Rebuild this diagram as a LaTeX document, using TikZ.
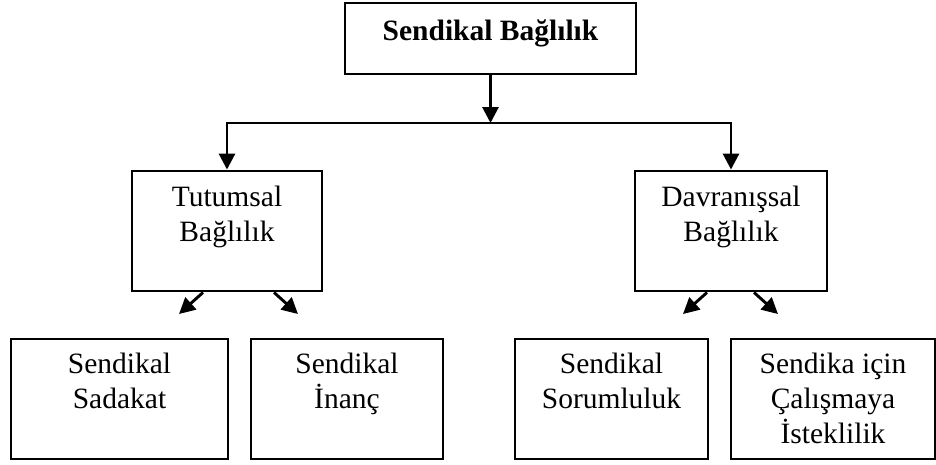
\documentclass[tikz,border=0pt]{standalone}
\usepackage{fontspec}
\setmainfont{Liberation Serif}
\usetikzlibrary{arrows.meta}

\tikzset{
  box/.style={draw, line width=2.9pt, rectangle, minimum height=120pt, inner sep=0pt},
  txt/.style={anchor=north, align=center, inner sep=0pt,
    font=\fontsize{29.5}{35}\selectfont},
  link/.style={line width=2.9pt},
  arr/.style={link, -{Triangle[length=16pt, width=16pt]}},
  darr/.style={link, -{Triangle[length=16pt, width=16pt]}},
}
\newcommand{\firstline}{\rule{0pt}{27pt}}

\begin{document}
\begin{tikzpicture}[x=1pt, y=-1pt]
  \useasboundingbox (0,0) rectangle (936,464);

  % boxes
  \node[box, minimum width=291pt, minimum height=71pt] (top) at (490.5,38.5) {};
  \node[box, minimum width=190pt] (tut) at (227,231) {};
  \node[box, minimum width=192pt] (dav) at (731,231) {};
  \node[box, minimum width=217pt] (sad) at (119.5,399) {};
  \node[box, minimum width=192pt] (ina) at (347,399) {};
  \node[box, minimum width=193pt] (sor) at (611.5,399) {};
  \node[box, minimum width=204pt] (ist) at (833,399) {};

  % texts
  \node[txt, font=\fontsize{29.5}{35}\selectfont\bfseries] (ttop) at ([yshift=-12pt]top.north) {\firstline Sendikal Bağlılık};
  \node[txt] (ttut) at ([yshift=-10pt]tut.north) {\firstline Tutumsal\\Bağlılık};
  \node[txt] (tdav) at ([yshift=-10pt]dav.north) {\firstline Davranışsal\\Bağlılık};
  \node[txt] (tsad) at ([yshift=-9pt]sad.north) {\firstline Sendikal\\Sadakat};
  \node[txt] (tina) at ([yshift=-9pt]ina.north) {\firstline Sendikal\\İnanç};
  \node[txt] (tsor) at ([yshift=-9pt]sor.north) {\firstline Sendikal\\Sorumluluk};
  \node[txt] (tist) at ([yshift=-9pt]ist.north) {\firstline Sendika için\\Çalışmaya\\İsteklilik};

  % top-level branching
  \coordinate (bus) at (top.south |- 0,123);
  \draw[arr] (top.south) -- (bus);
  \draw[arr] (bus) -| (tut.north);
  \draw[arr] (bus) -| (dav.north);

  % short diagonal arrows under the middle boxes
  \coordinate (t1) at (179,314);
  \coordinate (t2) at (298,314);
  \coordinate (d1) at (683,314);
  \coordinate (d2) at (778,314);
  \draw[darr] (tut.south -| 203,0) -- (t1);
  \draw[darr] (tut.south -| 274,0) -- (t2);
  \draw[darr] (dav.south -| 707,0) -- (d1);
  \draw[darr] (dav.south -| 754,0) -- (d2);
\end{tikzpicture}
\end{document}
